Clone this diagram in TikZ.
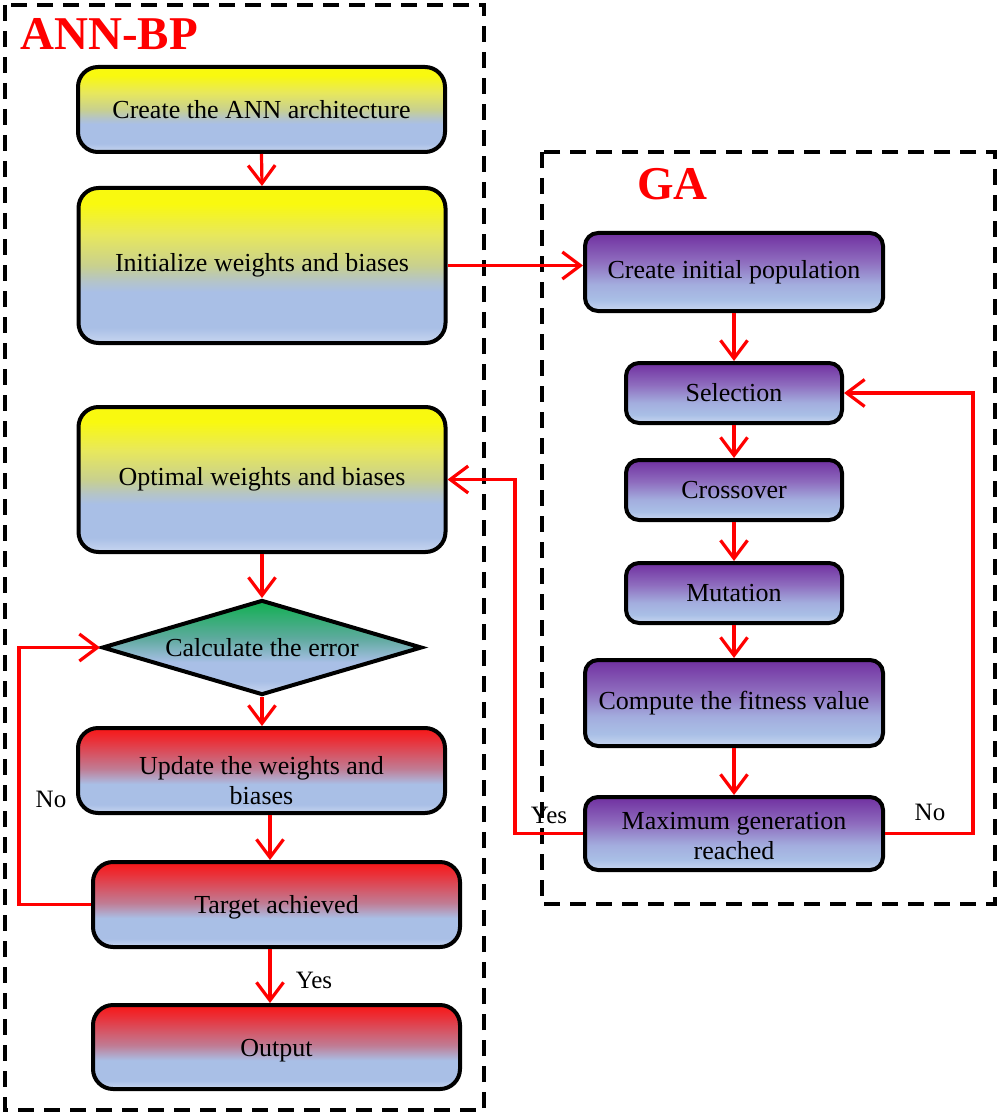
\documentclass[tikz,border=0pt]{standalone}
\usepackage{fontspec}
\setmainfont{Liberation Serif}
\usetikzlibrary{arrows.meta,shapes.geometric,calc}
\definecolor{yel}{HTML}{F9F90F}
\definecolor{yhi}{HTML}{E8E85C}
\definecolor{ymid}{HTML}{C8D08E}
\definecolor{ylow}{HTML}{B4C4C8}
\definecolor{blA}{HTML}{A9BFE6}
\definecolor{blB}{HTML}{C8D6F0}
\definecolor{rtop}{HTML}{F81616}
\definecolor{rhi}{HTML}{EA3038}
\definecolor{rmid}{HTML}{C07C94}
\definecolor{ptop}{HTML}{7030A0}
\definecolor{pmid}{HTML}{8E6CBE}
\definecolor{plow}{HTML}{A3ADDE}
\definecolor{gtop}{HTML}{10B050}
\definecolor{gmid}{HTML}{5EAA9E}
\definecolor{arrred}{HTML}{FF0000}
\pgfdeclareverticalshading{yshade}{100bp}{color(0bp)=(blB); color(25bp)=(blB); color(30bp)=(blA); color(41.5bp)=(blA); color(45bp)=(ylow); color(50bp)=(ymid); color(60bp)=(yhi); color(70bp)=(yel); color(100bp)=(yel)}
\pgfdeclareverticalshading{rshade}{100bp}{color(0bp)=(blB); color(25bp)=(blB); color(30bp)=(blA); color(42bp)=(blA); color(51bp)=(rmid); color(68bp)=(rhi); color(75bp)=(rtop); color(100bp)=(rtop)}
\pgfdeclareverticalshading{pshade}{100bp}{color(0bp)=(blB); color(25bp)=(blB); color(32bp)=(blA); color(42bp)=(plow); color(57bp)=(pmid); color(75bp)=(ptop); color(100bp)=(ptop)}
\pgfdeclareverticalshading{gshade}{100bp}{color(0bp)=(blB); color(25bp)=(blB); color(32bp)=(blA); color(42bp)=(blA); color(55bp)=(gmid); color(75bp)=(gtop); color(100bp)=(gtop)}
\tikzset{
  boxbase/.style={draw=black, line width=4pt, shade, align=center, inner sep=2pt,
    font=\fontsize{26}{30}\selectfont, text=black},
  annbox/.style={boxbase, rectangle, rounded corners=20pt, minimum width=367pt},
  ybox/.style={annbox, shading=yshade},
  rbox/.style={annbox, shading=rshade},
  gabox/.style={boxbase, rectangle, rounded corners=13pt, shading=pshade},
  dbox/.style={boxbase, diamond, shading=gshade, minimum width=320pt, minimum height=95pt, inner sep=0pt, aspect=3.4},
  frame/.style={draw=black, line width=4pt, dash pattern=on 16pt off 10pt},
  arr/.style={draw=arrred, line width=3.2pt, -{Straight Barb[length=18pt,width=27pt,line width=3.2pt]}},
  lbl/.style={font=\fontsize{25}{28}\selectfont, text=black, inner sep=0pt},
  ttl/.style={font=\fontsize{47}{50}\selectfont\bfseries, text=arrred, inner sep=0pt, anchor=base west}
}
\begin{document}
\begin{tikzpicture}[x=1pt,y=-1pt]
\useasboundingbox (0,0) rectangle (1000,1115);
% frames
\draw[frame] (5,5) rectangle (484,1110);
\draw[frame] (542,152) rectangle (995,904);
\node[ttl] (tann) at (20,50) {ANN-BP};
\node[ttl] (tga) at (637,200) {GA};
% ANN-BP nodes
\node[ybox, minimum height=85pt] (cann) at (261.5,109.5) {Create the ANN architecture};
\node[ybox, minimum height=155pt] (init) at (262,265.5) {Initialize weights and biases};
\node[ybox, minimum height=145pt] (opt) at (262,479.5) {Optimal weights and biases};
\node[dbox] (calc) at (262,647.5) {Calculate the error};
\node[rbox, minimum height=85pt] (upd) at (261.5,770.5) {\rule{0pt}{38pt}Update the weights and\\biases};
\node[rbox, minimum height=85pt] (tgt) at (276.5,904.5) {\rule{0pt}{24pt}Target achieved};
\node[rbox, minimum height=84pt] (out) at (276.5,1047) {\rule{0pt}{24pt}Output};
% GA nodes
\node[gabox, minimum width=298pt, minimum height=78pt] (pop) at (734,272) {Create initial population};
\node[gabox, minimum width=216pt, minimum height=60pt] (sel) at (734,393) {Selection};
\node[gabox, minimum width=216pt, minimum height=60pt] (cross) at (734,490) {Crossover};
\node[gabox, minimum width=216pt, minimum height=60pt] (mut) at (734,593) {Mutation};
\node[gabox, minimum width=298pt, minimum height=86pt] (fit) at (734,703) {Compute the fitness value};
\node[gabox, minimum width=298pt, minimum height=73pt] (maxg) at (734,833.5) {\rule{0pt}{22pt}Maximum generation\\reached};
% helper coordinates
\coordinate (yesx) at (515,0);
\coordinate (nox) at (973,0);
\coordinate (loopx) at (19,0);
% connectors
\draw[arr] (cann.south) -- (init.north);
\draw[arr] (init.east) -- (init.east -| pop.west);
\draw[arr] (pop.south) -- (sel.north);
\draw[arr] (sel.south) -- (cross.north);
\draw[arr] (cross.south) -- (mut.north);
\draw[arr] (mut.south) -- (fit.north);
\draw[arr] (fit.south) -- (maxg.north);
\draw[arr] (maxg.west) -- (maxg.west -| yesx) |- (opt.east);
\draw[arr] (maxg.east) -- (maxg.east -| nox) |- (sel.east);
\draw[arr] (opt.south) -- (calc.north);
\draw[arr] (calc.south) -- (calc.south |- upd.north);
\draw[arr] ($(upd.south)+(8.5,0)$) -- ($(tgt.north)+(-6.5,0)$);
\draw[arr] ($(tgt.south)+(-6.5,0)$) -- ($(out.north)+(-6.5,0)$);
\draw[arr] (tgt.west) -- (tgt.west -| loopx) |- (calc.west);
% labels
\node[lbl] (lyes1) at (314,980) {Yes};
\node[lbl] (lno1) at (51,799) {No};
\node[lbl] (lyes2) at (549,815) {Yes};
\node[lbl] (lno2) at (930,812) {No};
\end{tikzpicture}
\end{document}
